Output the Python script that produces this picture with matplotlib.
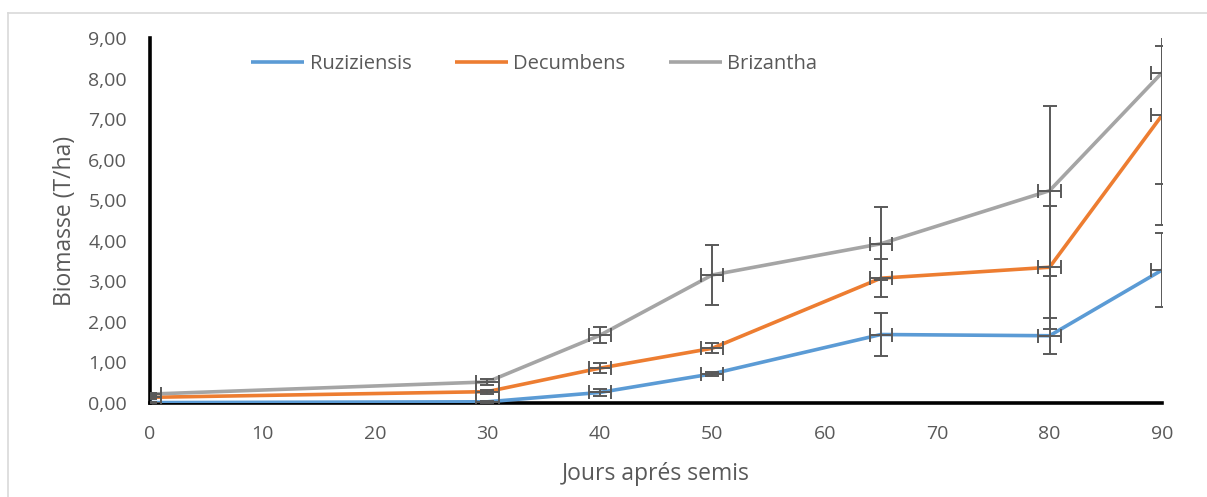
import matplotlib
matplotlib.use("Agg")
import matplotlib.pyplot as plt
from matplotlib.lines import Line2D
from matplotlib.ticker import FuncFormatter

plt.rcParams['font.family'] = ['Open Sans', 'DejaVu Sans']

days = [0, 30, 40, 50, 65, 80, 90]
ruziziensis = [0.01, 0.03, 0.26, 0.72, 1.69, 1.66, 3.28]
ruziziensis_err = [0.01, 0.02, 0.08, 0.05, 0.53, 0.44, 0.91]
decumbens = [0.14, 0.28, 0.86, 1.35, 3.08, 3.35, 7.10]
decumbens_err = [0.03, 0.05, 0.13, 0.12, 0.47, 1.52, 1.70]
brizantha = [0.22, 0.52, 1.67, 3.16, 3.93, 5.24, 8.15]
brizantha_err = [0.03, 0.07, 0.20, 0.75, 0.90, 2.10, 3.75]
days_err = 1
series_names = ["Ruziziensis", "Decumbens", "Brizantha"]
colors = ["#5B9BD5", "#ED7D31", "#A5A5A5"]

W, H = 1207, 497
fig = plt.figure(figsize=(W / 100, H / 100), dpi=100)
ax = fig.add_axes([150 / W, 1 - 403 / H, (1162 - 150) / W, (403 - 38.3) / H])

series = [(ruziziensis, ruziziensis_err), (decumbens, decumbens_err), (brizantha, brizantha_err)]
for (vals, err), name, c in zip(series, series_names, colors):
    ax.plot(days, vals, color=c, lw=2.6, label=name, zorder=3, solid_capstyle='butt')
    ax.errorbar(days, vals, yerr=err, xerr=days_err, fmt='none', ecolor='#595959',
                elinewidth=1.4, capsize=5, capthick=1.4, zorder=4)

ax.set_xlim(0, 90)
ax.set_ylim(0, 9)
ax.set_xticks(range(0, 91, 10))
ax.set_yticks(range(0, 10))
ax.yaxis.set_major_formatter(FuncFormatter(lambda v, p: f"{v:.2f}".replace('.', ',')))
ax.tick_params(length=0, labelsize=14, colors='#595959')
ax.tick_params(axis='y', pad=16.5)
ax.tick_params(axis='x', pad=15.5)
for s in ['top', 'right']:
    ax.spines[s].set_visible(False)
for s in ['left', 'bottom']:
    ax.spines[s].set_color('black')
    ax.spines[s].set_linewidth(2.6)

ax.set_xlabel("Jours aprés semis", fontsize=16.5, color='#595959', labelpad=14)
ax.set_ylabel("Biomasse (T/ha)", fontsize=16.5, color='#595959', labelpad=8)

leg = ax.legend(loc='center left', bbox_to_anchor=((251 - 150) / 1012, 0.93), ncol=3,
                frameon=False, borderpad=0, borderaxespad=0,
                fontsize=14.5, handlelength=2.64, columnspacing=2.15, handletextpad=0.27,
                labelcolor='#595959')

fig.add_artist(Line2D([8 / W, 8 / W], [0, 1 - 13 / H], color='#D9D9D9', lw=1.2))
fig.add_artist(Line2D([8 / W, 1], [1 - 13 / H, 1 - 13 / H], color='#D9D9D9', lw=1.2))

fig.savefig("out.png", dpi=100)
